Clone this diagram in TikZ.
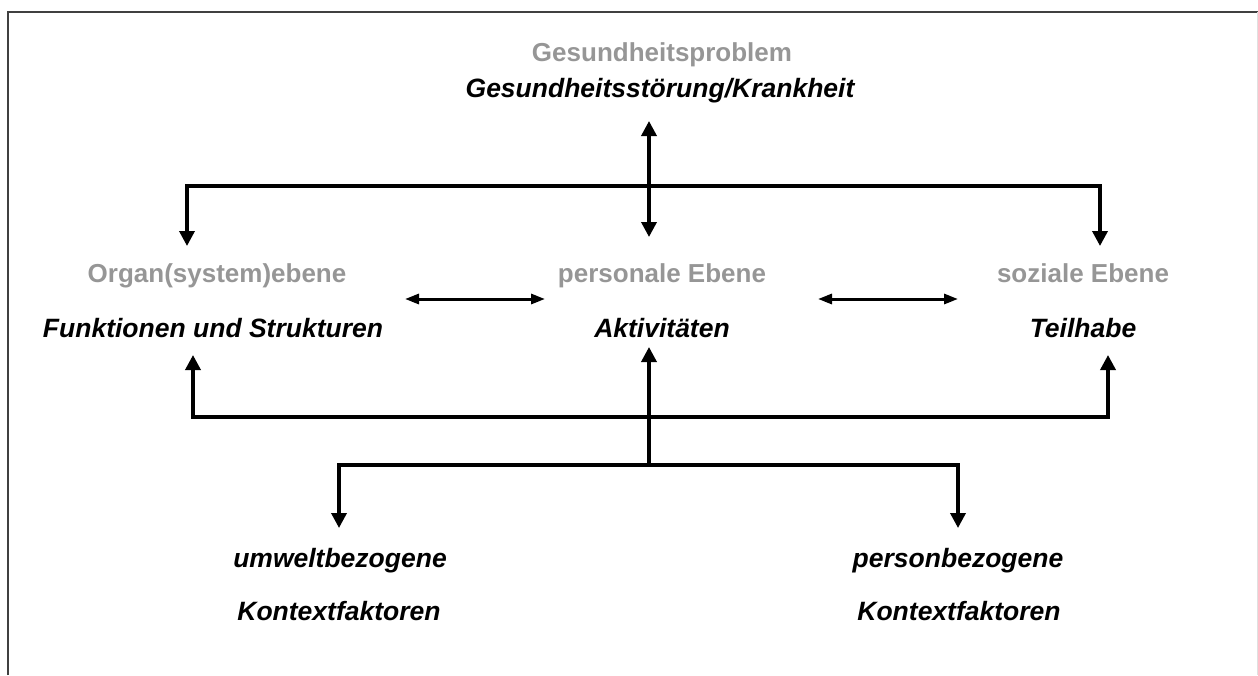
\documentclass[tikz,border=0pt]{standalone}
\usepackage{fontspec}
\setmainfont{Liberation Sans}
\usetikzlibrary{arrows.meta}
\definecolor{ebenegray}{RGB}{150,150,150}
\begin{document}
\begin{tikzpicture}[x=1pt, y=-1pt,
    ebene/.style = {anchor=base, text=ebenegray, font=\fontsize{26}{30}\selectfont\bfseries, inner sep=0pt},
    begriff/.style = {anchor=base, text=black, font=\fontsize{26.5}{30}\selectfont\bfseries\itshape, inner sep=0pt},
    big/.style = {line width=3.5pt, line join=miter, {Triangle[width=15pt,length=15pt]}-{Triangle[width=15pt,length=15pt]}},
    small/.style = {line width=3pt, {Triangle[width=10pt,length=14pt]}-{Triangle[width=10pt,length=14pt]}}]
    \useasboundingbox (0,0) rectangle (1258,675);

    \draw[line width=2pt, color=black!75] (8,675) -- (8,12) -- (1258,12);
    \draw[line width=1pt, color=black!12] (1257,12) -- (1257,675);

    \node[ebene] (problem) at (662,61) {Gesundheitsproblem};
    \node[begriff] (stoerung) at (660,97) {Gesundheitsstörung/Krankheit};

    \node[ebene] (organ) at (217,282) {Organ(system)ebene};
    \node[begriff] (funktion) at (213,337) {Funktionen und Strukturen};

    \node[ebene] (personal) at (662,282) {personale Ebene};
    \node[begriff] (aktiv) at (662,337) {Aktivitäten};

    \node[ebene] (sozial) at (1083,282) {soziale Ebene};
    \node[begriff] (teilhabe) at (1083,337) {Teilhabe};

    \node[begriff] (umwelt) at (340,567) {umweltbezogene};
    \node[begriff] (kontextU) at (339,620) {Kontextfaktoren};

    \node[begriff] (person) at (958,567) {personbezogene};
    \node[begriff] (kontextP) at (959,620) {Kontextfaktoren};

    % oben
    \coordinate (probTip) at (649,121);
    \coordinate (aktTop) at (649,237);
    \coordinate (organTip) at (187,246);
    \coordinate (organTop) at (187,186);
    \coordinate (sozialTop) at (1100,186);
    \coordinate (sozialTip) at (1100,246);
    \draw[big] (probTip) -- (aktTop);
    \draw[big] (organTip) -- (organTop) -- (sozialTop) -- (sozialTip);

    % zwischen den Ebenen
    \coordinate (linksA) at (405,299);
    \coordinate (linksB) at (545,299);
    \coordinate (rechtsA) at (818,299);
    \coordinate (rechtsB) at (958,299);
    \draw[small] (linksA) -- (linksB);
    \draw[small] (rechtsA) -- (rechtsB);

    % unten
    \coordinate (funkTip) at (193,355);
    \coordinate (funkBot) at (193,417);
    \coordinate (teilBot) at (1108,417);
    \coordinate (teilTip) at (1108,355);
    \draw[big] (funkTip) -- (funkBot) -- (teilBot) -- (teilTip);

    \coordinate (aktTip) at (649,347);
    \coordinate (gabel) at (649,465);
    \draw[big, -{Triangle[width=15pt,length=15pt]}] (gabel) -- (aktTip);

    \coordinate (umweltTip) at (339,528);
    \coordinate (umweltTop) at (339,465);
    \coordinate (personTop) at (958,465);
    \coordinate (personTip) at (958,528);
    \draw[big] (umweltTip) -- (umweltTop) -- (personTop) -- (personTip);

  \end{tikzpicture}
\end{document}
